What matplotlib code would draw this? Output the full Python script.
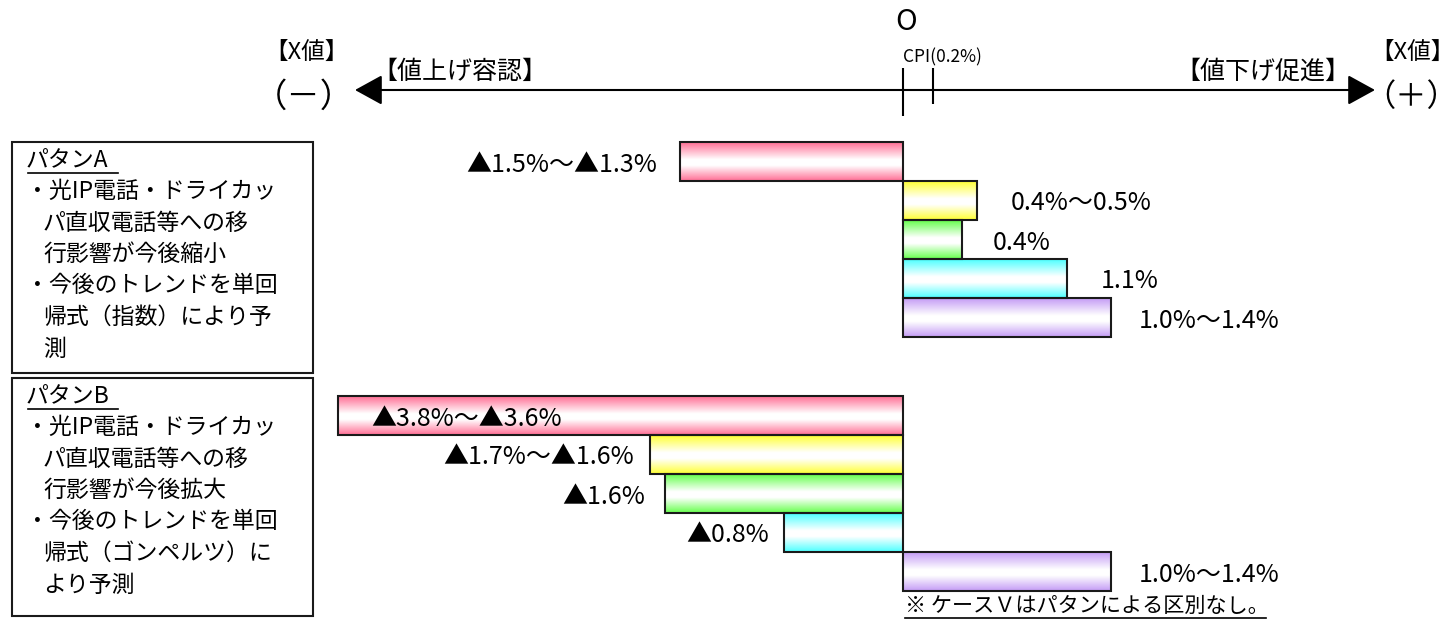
import numpy as np
import matplotlib
matplotlib.use('Agg')
import matplotlib.pyplot as plt
from matplotlib.colors import LinearSegmentedColormap

plt.rcParams['font.family'] = ['Noto Sans CJK JP', 'DejaVu Sans']

# chart data
case_colors = ['#ff6f95', '#ffff33', '#66ff4d', '#4dffff', '#c49cf5']
pattern_a = [-1.5, 0.5, 0.4, 1.1, 1.4]
pattern_b = [-3.8, -1.7, -1.6, -0.8, 1.4]
labels_a = ['▲1.5%～▲1.3%', '0.4%～0.5%', '0.4%', '1.1%', '1.0%～1.4%']
labels_b = ['▲3.8%～▲3.6%', '▲1.7%～▲1.6%', '▲1.6%', '▲0.8%', '1.0%～1.4%']
cpi = 0.2
box_a = ['パタンA', '・光IP電話・ドライカッ', '  パ直収電話等への移', '  行影響が今後縮小',
         '・今後のトレンドを単回', '  帰式（指数）により予', '  測']
box_b = ['パタンB', '・光IP電話・ドライカッ', '  パ直収電話等への移', '  行影響が今後拡大',
         '・今後のトレンドを単回', '  帰式（ゴンペルツ）に', '  より予測']

W, H = 1455, 626
zero_px = 903
px_per_pct = 148.7
bar_h = 39

fig = plt.figure(figsize=(W / 100, H / 100), dpi=100)
ax = fig.add_axes([0, 0, 1, 1])
ax.axis('off')

# label offsets (pixels from the bar end)
offs_a = [-23, 33, 30, 34, 28]
offs_b = [33, -16, -20, -15, 28]

for top, vals, labs, offs in [(142, pattern_a, labels_a, offs_a), (396, pattern_b, labels_b, offs_b)]:
    ys = [top + bar_h * i + bar_h / 2 for i in range(len(vals))]
    bars = ax.barh(ys, vals, height=bar_h, color='none', edgecolor='#1a1a1a', linewidth=1.5, zorder=3)
    for b, col in zip(bars, case_colors):
        x0, y0, w, h = b.get_x(), b.get_y(), b.get_width(), b.get_height()
        cmap = LinearSegmentedColormap.from_list('g', [(0, col), (0.45, 'white'), (0.6, 'white'), (1, col)])
        grad = np.linspace(0, 1, 100).reshape(-1, 1)
        im = ax.imshow(grad, extent=[x0, x0 + w, y0 + h, y0], aspect='auto', cmap=cmap, zorder=2)
        im.set_clip_path(b)
    for v, y, lab, dx in zip(vals, ys, labs, offs):
        ax.annotate(lab, (v, y + 3), xytext=(dx, 0), textcoords='offset pixels',
                    ha='left' if dx > 0 else 'right', va='center', fontsize=18, zorder=4)

# zero / CPI marks on the top axis
ax.vlines([0], 68, 116, color='black', lw=1.5)
ax.vlines([cpi], 68, 104, color='black', lw=1.5)

ax.set_xlim(-zero_px / px_per_pct, (W - zero_px) / px_per_pct)
ax.set_ylim(H, 0)

# overlay in pixel coordinates for the annotations
ov = fig.add_axes([0, 0, 1, 1], zorder=5)
ov.set_xlim(0, W)
ov.set_ylim(H, 0)
ov.axis('off')
ov.patch.set_alpha(0)

ov.annotate('', xy=(355, 90), xytext=(1375, 90),
            arrowprops=dict(arrowstyle='<|-|>,head_length=1.0,head_width=0.55', mutation_scale=17,
                            lw=1.5, color='black', shrinkA=0, shrinkB=0))
ov.text(906, 22, 'O', ha='center', va='center', fontsize=21)
ov.text(903, 57, 'CPI(0.2%)', ha='left', va='center', fontsize=12.5)
ov.text(306, 52, '【X値】', ha='center', va='center', fontsize=17)
ov.text(304, 97, '（－）', ha='center', va='center', fontsize=24)
ov.text(1412, 52, '【X値】', ha='center', va='center', fontsize=17)
ov.text(1411, 97, '（＋）', ha='center', va='center', fontsize=22.5)
ov.text(372, 72, '【値上げ容認】', ha='left', va='center', fontsize=18)
ov.text(1350, 72, '【値下げ促進】', ha='right', va='center', fontsize=18)

# pattern description boxes
for top, bottom, lines in [(142, 373, box_a), (378, 616, box_b)]:
    ov.add_patch(plt.Rectangle((12, top), 301, bottom - top, fill=False, lw=1.5, ec='#1a1a1a'))
    for i, line in enumerate(lines):
        y = top + 18 + i * 31.5
        if line.startswith('  '):
            ov.text(43, y, line.strip(), ha='left', va='center', fontsize=16.5)
        else:
            ov.text(26, y, line, ha='left', va='center', fontsize=16.5)
    ov.plot([28, 118], [top + 31, top + 31], color='black', lw=1.2)

ov.text(905, 606, '※ ケースＶはパタンによる区別なし。', ha='left', va='center', fontsize=15.2)
ov.plot([905, 1266], [618, 618], color='black', lw=1.2)

fig.savefig('out.png', dpi=100)
